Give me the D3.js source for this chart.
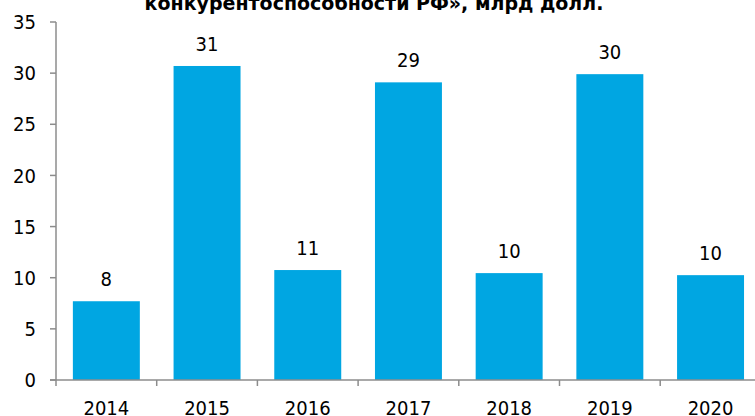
<!DOCTYPE html>
<html>
<head>
<meta charset="utf-8">
<script src="https://cdn.jsdelivr.net/npm/d3@7"></script>
<style>
  html, body { margin: 0; padding: 0; background: #fff; }
  svg { display: block; }
  text { font-family: "DejaVu Sans Condensed", "DejaVu Sans", sans-serif; font-stretch: condensed; }
</style>
</head>
<body>
<svg id="chart" width="755" height="416"></svg>
<script>
const categories = ["2014", "2015", "2016", "2017", "2018", "2019", "2020"];
const values = [7.7, 30.7, 10.75, 29.1, 10.45, 29.9, 10.25];
const labels = ["8", "31", "11", "29", "10", "30", "10"];
const yTicks = [0, 5, 10, 15, 20, 25, 30, 35];
const titleText = "конкурентоспособности РФ», млрд долл.";

const svg = d3.select("#chart");
const axisColor = "#8c8c8c";
const barColor = "#00a6e2";

const x0 = 56, step = 100.7;
const x = d3.scaleBand().domain(categories).range([x0, x0 + step * categories.length]).padding(0);
const y = d3.scaleLinear().domain([0, 35]).range([380, 22]);
const barFrac = 0.665;

// title (top line clipped, as in the source)
svg.append("text")
  .attr("x", 374).attr("y", 10)
  .attr("text-anchor", "middle")
  .style("font-family", "'DejaVu Sans', sans-serif")
  .style("font-stretch", "normal")
  .style("font-weight", "bold")
  .style("font-size", "19px")
  .attr("fill", "#000")
  .text(titleText);

// bars
svg.selectAll("rect.bar").data(categories).enter().append("rect")
  .attr("class", "bar")
  .attr("x", d => x(d) + x.bandwidth() * (1 - barFrac) / 2)
  .attr("width", x.bandwidth() * barFrac)
  .attr("y", (d, i) => y(values[i]))
  .attr("height", (d, i) => y(0) - y(values[i]))
  .attr("fill", barColor);

// value labels
svg.selectAll("text.val").data(categories).enter().append("text")
  .attr("class", "val")
  .attr("x", d => x(d) + x.bandwidth() / 2)
  .attr("y", (d, i) => y(values[i]) - 15)
  .attr("text-anchor", "middle")
  .style("font-size", "20px")
  .attr("fill", "#000")
  .text((d, i) => labels[i]);

// y axis
const yAxis = svg.append("g");
yAxis.append("line")
  .attr("x1", x0).attr("x2", x0)
  .attr("y1", y(35)).attr("y2", y(0))
  .attr("stroke", axisColor).attr("stroke-width", 1.5);
yAxis.selectAll("line.tick").data(yTicks).enter().append("line")
  .attr("x1", x0 - 6).attr("x2", x0)
  .attr("y1", d => y(d)).attr("y2", d => y(d))
  .attr("stroke", axisColor).attr("stroke-width", 1.5);
yAxis.selectAll("text").data(yTicks).enter().append("text")
  .attr("x", 36).attr("y", d => y(d))
  .attr("dy", "0.36em")
  .attr("text-anchor", "end")
  .style("font-size", "20px")
  .attr("fill", "#000")
  .text(d => d);

// x axis
const xAxis = svg.append("g");
xAxis.append("line")
  .attr("x1", x0 - 6).attr("x2", x0 + step * categories.length)
  .attr("y1", y(0)).attr("y2", y(0))
  .attr("stroke", axisColor).attr("stroke-width", 1.5);
const boundaries = categories.map(d => x(d)).concat([x(categories[categories.length - 1]) + x.bandwidth()]);
xAxis.selectAll("line.tick").data(boundaries).enter().append("line")
  .attr("x1", d => d).attr("x2", d => d)
  .attr("y1", y(0)).attr("y2", y(0) + 6)
  .attr("stroke", axisColor).attr("stroke-width", 1.5);
xAxis.selectAll("text").data(categories).enter().append("text")
  .attr("x", d => x(d) + x.bandwidth() / 2)
  .attr("y", 415)
  .attr("text-anchor", "middle")
  .style("font-size", "20px")
  .attr("fill", "#000")
  .text(d => d);
</script>
</body>
</html>
